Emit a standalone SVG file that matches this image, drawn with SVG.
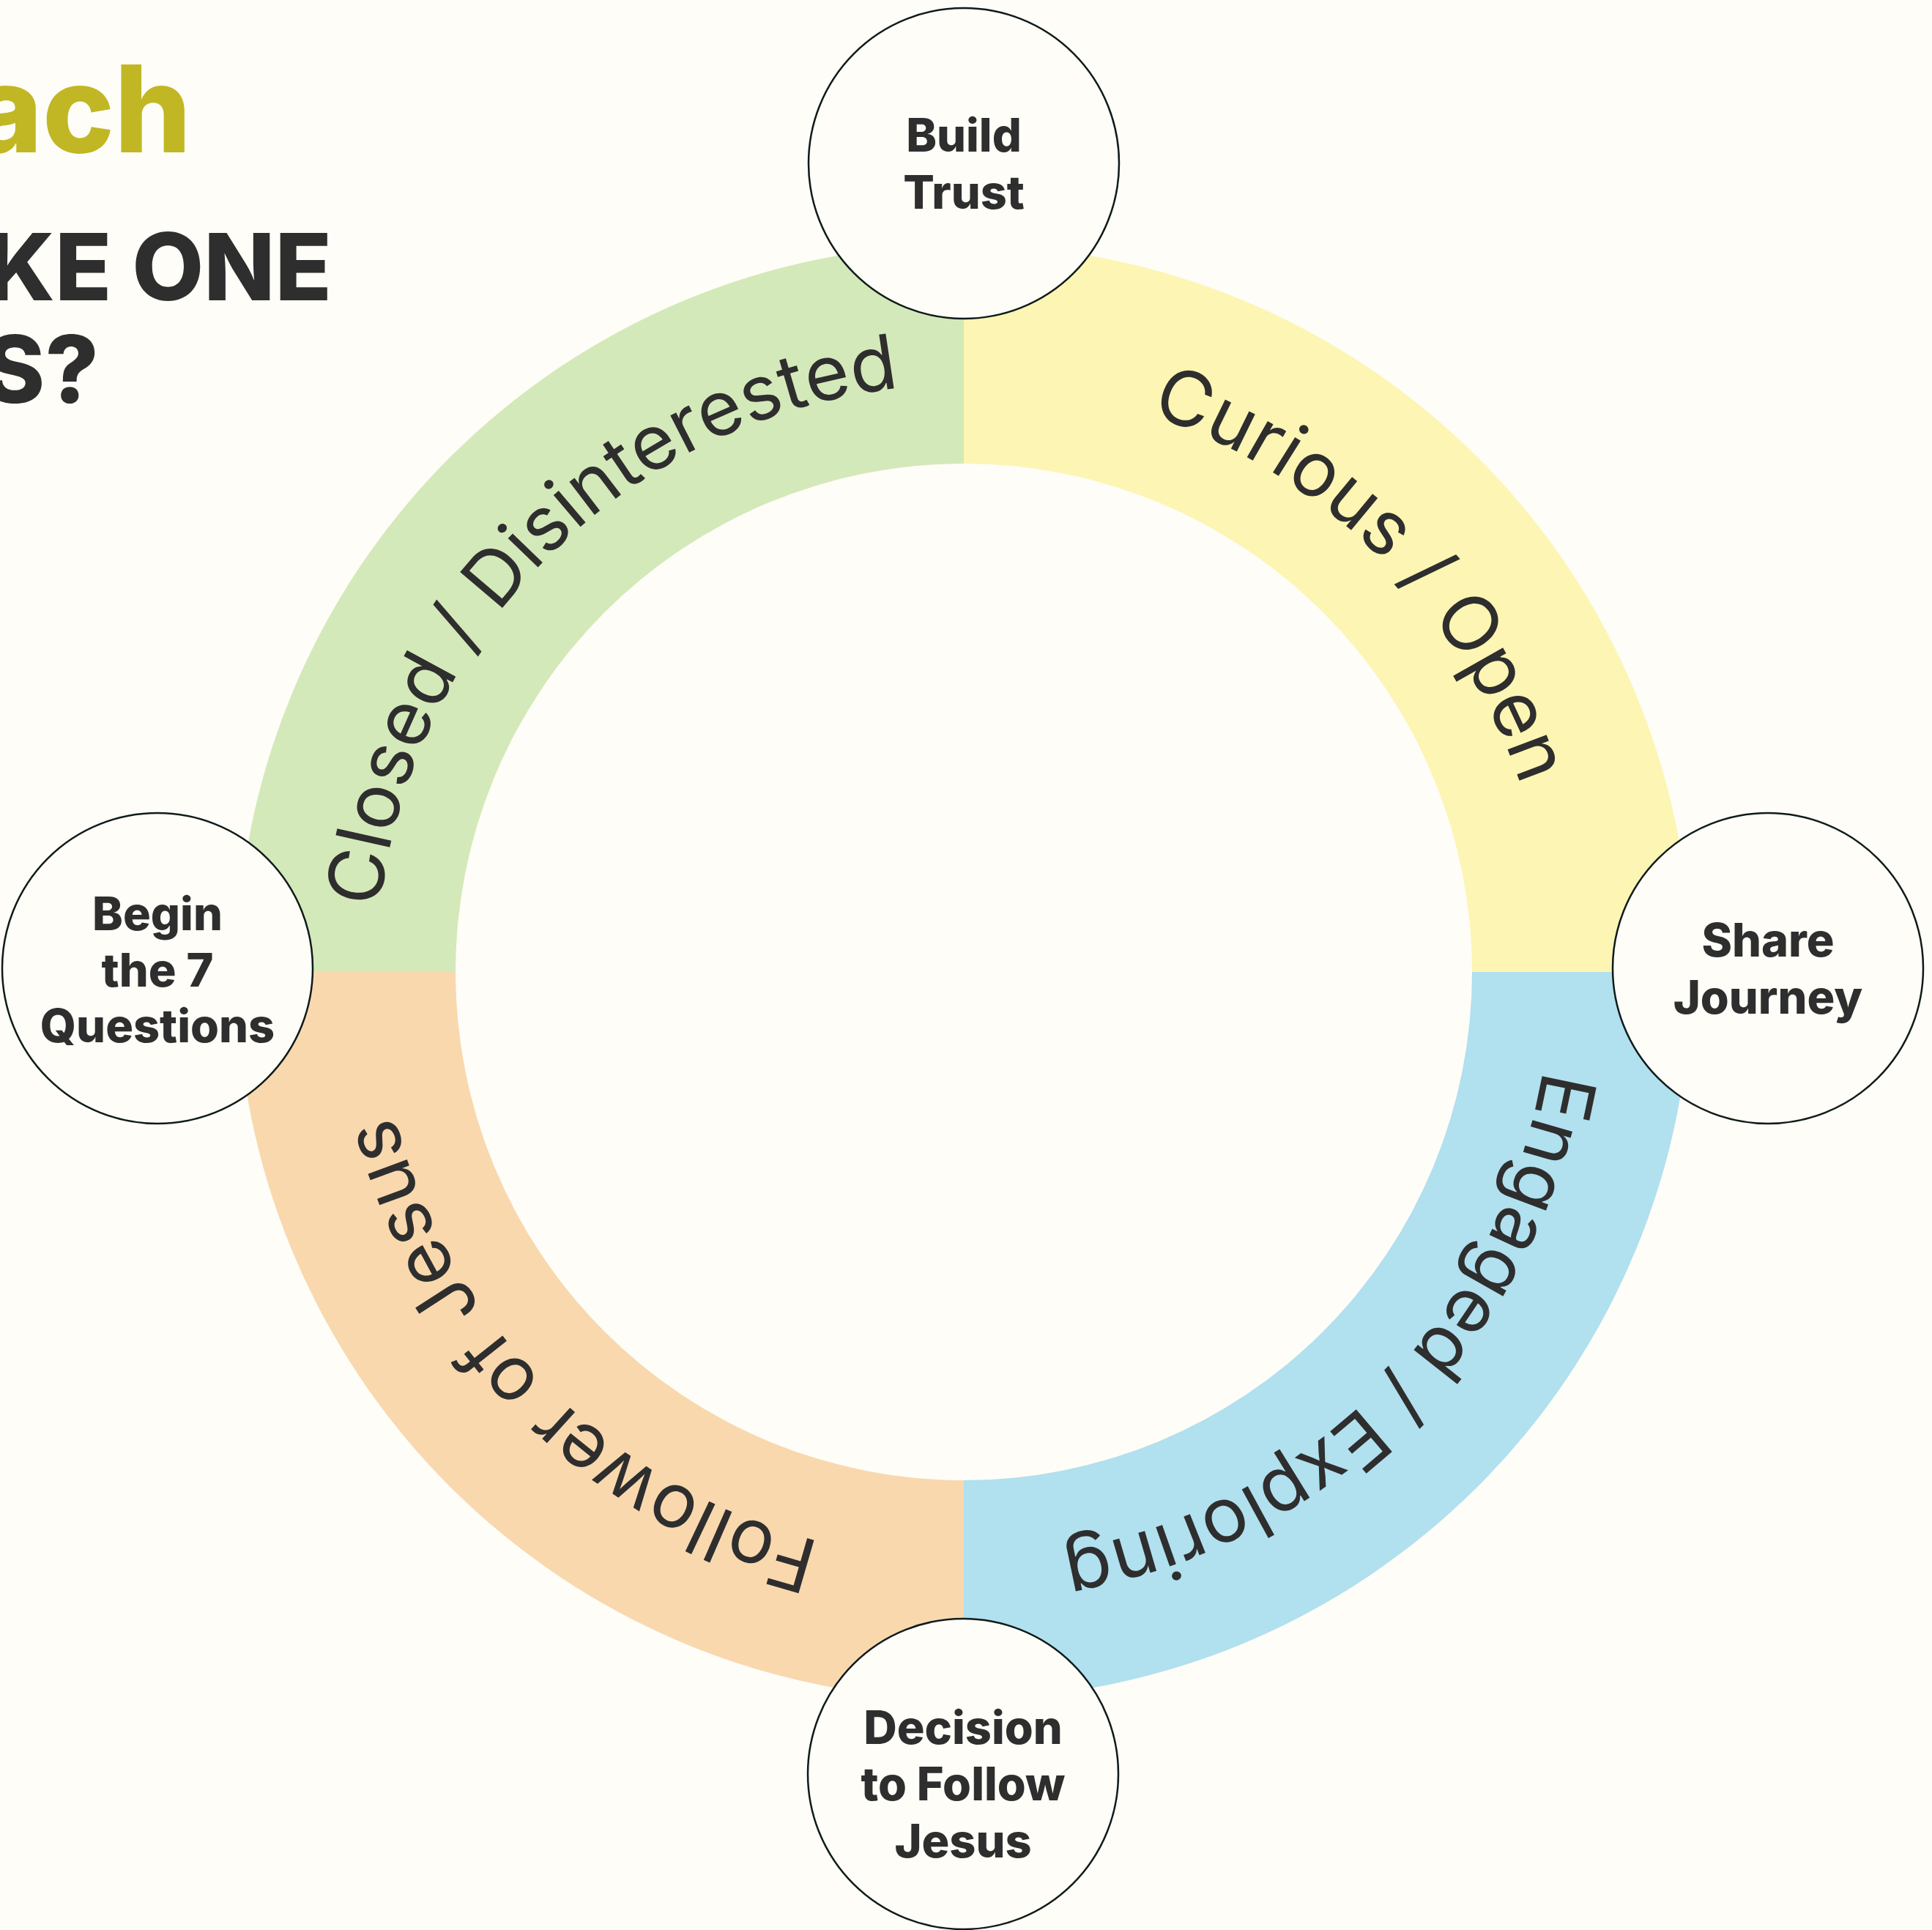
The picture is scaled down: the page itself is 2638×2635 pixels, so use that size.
<svg xmlns="http://www.w3.org/2000/svg" xmlns:xlink="http://www.w3.org/1999/xlink" width="2638" height="2635" viewBox="0 0 2638 2635">
<style>
.title{font-family:Inter,"Liberation Sans",sans-serif;font-weight:800;}
.ring{font-family:Inter,"Liberation Sans",sans-serif;font-weight:400;font-size:104px;fill:#2e2e2e;}
.node circle{fill:#fefdf7;stroke:#0f1b1b;stroke-width:2.5;}
.node text{font-family:Inter,"Liberation Sans",sans-serif;font-weight:800;font-size:63px;fill:#2e2e2e;text-anchor:middle;}
</style>
<defs>
<path id="tp" d="M 2118 1327 A 802 802 0 1 1 514 1327 A 802 802 0 1 1 2118 1327"/>
</defs>
<rect width="2638" height="2635" fill="#fefdf7"/>
<g id="title">
<text class="title" x="261" y="208" font-size="165" fill="#c1b724" text-anchor="end">ach</text>
<text class="title" x="453" y="410" font-size="127" fill="#2e2e2e" text-anchor="end">KE ONE</text>
<text class="title" x="135" y="550" font-size="127" fill="#2e2e2e" text-anchor="end">S?</text>
</g>
<g id="ring">
<path id="seg-closed" d="M 323 1327 A 993 993 0 0 1 1316 334 L 1316 633 A 694 694 0 0 0 622 1327 Z" fill="#d4e9b9"/>
<path id="seg-curious" d="M 1316 334 A 993 993 0 0 1 2309 1327 L 2010 1327 A 694 694 0 0 0 1316 633 Z" fill="#fdf5b3"/>
<path id="seg-engaged" d="M 2309 1327 A 993 993 0 0 1 1316 2320 L 1316 2021 A 694 694 0 0 0 2010 1327 Z" fill="#b1e0ef"/>
<path id="seg-follower" d="M 1316 2320 A 993 993 0 0 1 323 1327 L 622 1327 A 694 694 0 0 0 1316 2021 Z" fill="#f9d8ae"/>
<text class="ring" text-anchor="middle"><textPath xlink:href="#tp" href="#tp" startOffset="12.5%">Engaged / Exploring</textPath></text>
<text class="ring" text-anchor="middle"><textPath xlink:href="#tp" href="#tp" startOffset="37.5%">Follower of Jesus</textPath></text>
<text class="ring" text-anchor="middle"><textPath xlink:href="#tp" href="#tp" startOffset="62.5%">Closed / Disinterested</textPath></text>
<text class="ring" text-anchor="middle"><textPath xlink:href="#tp" href="#tp" startOffset="87.5%">Curious / Open</textPath></text>
</g>
<g id="connectors"></g>
<g id="node-build-trust" class="node">
<circle cx="1316" cy="223" r="212"/>
<text x="1316" y="207">Build</text>
<text x="1316" y="285">Trust</text>
</g>
<g id="node-share-journey" class="node">
<circle cx="2414" cy="1322" r="212"/>
<text x="2414" y="1306">Share</text>
<text x="2414" y="1384">Journey</text>
</g>
<g id="node-decision" class="node">
<circle cx="1315" cy="2422" r="212"/>
<text x="1315" y="2381">Decision</text>
<text x="1315" y="2458">to Follow</text>
<text x="1315" y="2536">Jesus</text>
</g>
<g id="node-begin" class="node">
<circle cx="215" cy="1322" r="212"/>
<text x="215" y="1270">Begin</text>
<text x="215" y="1347">the 7</text>
<text x="215" y="1423">Questions</text>
</g>
</svg>
